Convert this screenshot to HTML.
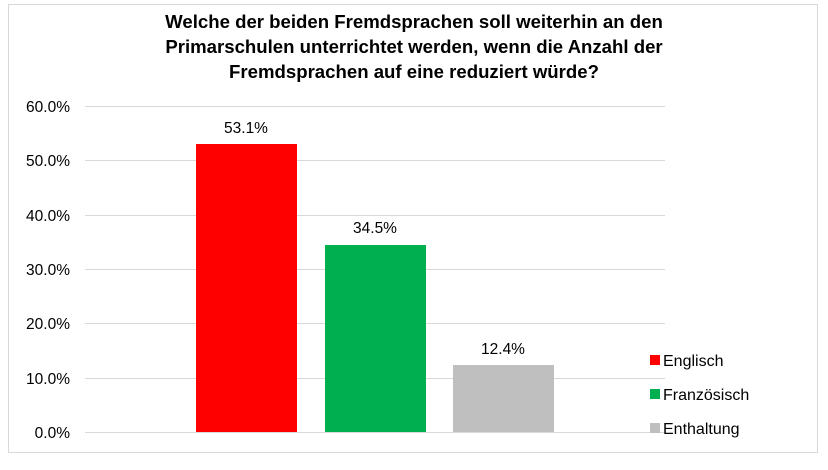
<!DOCTYPE html>
<html><head><meta charset="utf-8"><style>
body{margin:0;background:#fff;width:828px;height:470px;overflow:hidden}
svg{display:block;font-family:"Liberation Sans",sans-serif}
</style></head><body>
<svg width="828" height="470">
<rect x="8.5" y="4.5" width="809" height="448" fill="#fff" stroke="#d9d9d9"/>
<g font-weight="bold" font-size="18.6" text-anchor="middle" fill="#000">
<text x="414" y="28">Welche der beiden Fremdsprachen soll weiterhin an den</text>
<text x="414" y="53">Primarschulen unterrichtet werden, wenn die Anzahl der</text>
<text x="414" y="78">Fremdsprachen auf eine reduziert würde?</text>
</g>
<g stroke="#d9d9d9" stroke-width="1">
<line x1="85" x2="665" y1="106.5" y2="106.5"/>
<line x1="85" x2="665" y1="160.5" y2="160.5"/>
<line x1="85" x2="665" y1="215.5" y2="215.5"/>
<line x1="85" x2="665" y1="269.5" y2="269.5"/>
<line x1="85" x2="665" y1="323.5" y2="323.5"/>
<line x1="85" x2="665" y1="378.5" y2="378.5"/>
<line x1="85" x2="665" y1="432.5" y2="432.5"/>
</g>
<g font-size="15.5" text-anchor="end" fill="#000">
<text x="70" y="112">60.0%</text>
<text x="70" y="166">50.0%</text>
<text x="70" y="221">40.0%</text>
<text x="70" y="275">30.0%</text>
<text x="70" y="329">20.0%</text>
<text x="70" y="384">10.0%</text>
<text x="70" y="438">0.0%</text>
</g>
<rect x="196" y="144" width="101" height="288" fill="#ff0000"/>
<rect x="325" y="245" width="101" height="187" fill="#00b050"/>
<rect x="453" y="365" width="101" height="67" fill="#bfbfbf"/>
<g font-size="15.5" text-anchor="middle" fill="#000">
<text x="246" y="133">53.1%</text>
<text x="375" y="233">34.5%</text>
<text x="503" y="354">12.4%</text>
</g>
<rect x="650" y="355" width="10" height="10" fill="#ff0000"/>
<rect x="650" y="389" width="10" height="10" fill="#00b050"/>
<rect x="650" y="423" width="10" height="10" fill="#bfbfbf"/>
<g font-size="16" fill="#000">
<text x="663" y="366">Englisch</text>
<text x="663" y="400">Französisch</text>
<text x="663" y="434">Enthaltung</text>
</g>
</svg>
</body></html>
